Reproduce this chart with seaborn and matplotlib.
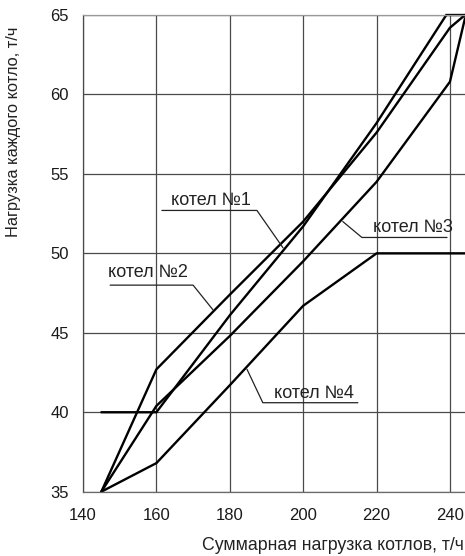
import matplotlib
matplotlib.use("Agg")
import matplotlib.pyplot as plt
import pandas as pd
import seaborn as sns

# суммарная нагрузка котлов (т/ч) и нагрузка каждого котла (т/ч)
total_1 = [145, 160, 180, 200, 220, 239, 244.1]
load_1 = [40, 40, 46.1, 51.7, 58.2, 65, 65]
total_2 = [145, 160, 180, 200, 220, 240, 244.1]
load_2 = [35, 42.7, 47.4, 52.0, 57.6, 64.2, 65]
total_3 = [145, 160, 180, 200, 220, 240, 244.1]
load_3 = [35, 40.4, 44.8, 49.5, 54.5, 60.8, 64.8]
total_4 = [145, 160, 180, 200, 220, 244.1]
load_4 = [35, 36.8, 41.7, 46.7, 50, 50]

boiler_names = ["котел №1", "котел №2", "котел №3", "котел №4"]
x_ticks = [140, 160, 180, 200, 220, 240]
y_ticks = [35, 40, 45, 50, 55, 60, 65]

# подписи: текст (x, y) и выноска (ломаная)
label_pos = [(175.0, 53.3), (157.6, 48.8), (229.9, 51.6), (202.9, 41.2)]
leader_x = [[161.5, 187.4, 194.5], [147.4, 170.0, 175.4],
            [239.2, 216.0, 210.8], [214.9, 189.0, 184.7]]
leader_y = [[52.7, 52.7, 50.35], [48.0, 48.0, 46.45],
            [51.0, 51.0, 52.0], [40.6, 40.6, 42.7]]

frames = []
for name, xs, ys in zip(boiler_names,
                        [total_1, total_2, total_3, total_4],
                        [load_1, load_2, load_3, load_4]):
    frames.append(pd.DataFrame({"total": xs, "load": ys, "boiler": name}))
df = pd.concat(frames, ignore_index=True)

sns.set_style("white")
plt.rcParams["font.family"] = ["Liberation Sans", "DejaVu Sans"]

W, H = 465, 556
fig = plt.figure(figsize=(W / 100, H / 100), dpi=100)
ax = fig.add_axes([83 / W, 1 - 491.7 / H, 1 - 83 / W, (491.7 - 15) / H])

ax.grid(True, color="#4a4a4a", linewidth=0.9)
ax.set_axisbelow(True)

sns.lineplot(data=df, x="total", y="load", hue="boiler", palette=["black"] * 4,
             estimator=None, sort=False, legend=False, linewidth=1.7, ax=ax)
for line in ax.get_lines():
    line.set_clip_on(False)
    line.set_solid_joinstyle("miter")

for name, (tx, ty), lx, ly in zip(boiler_names, label_pos, leader_x, leader_y):
    ax.plot(lx, ly, color="#222222", linewidth=0.9, clip_on=False)
    ax.text(tx, ty, name, ha="center", va="center", fontsize=13, color="#222222")

ax.set_xlim(140, 244.1)
ax.set_ylim(35, 65)
ax.set_xticks(x_ticks)
ax.set_yticks(y_ticks)
ax.tick_params(axis="both", direction="out", length=5, width=0.9, color="#4a4a4a",
               labelsize=12, pad=5, labelcolor="#1a1a1a")
ax.tick_params(axis="x", pad=7)

ax.spines["right"].set_visible(False)
ax.spines["top"].set_color("#9a9a9a")
ax.spines["left"].set_color("#4a4a4a")
ax.spines["bottom"].set_color("#6a6a6a")
for s in ax.spines.values():
    s.set_linewidth(0.9)

ax.set_xlabel("")
ax.set_ylabel("")
fig.text(0.998, 1 - 545 / H, "Суммарная нагрузка котлов, т/ч", ha="right", va="center",
         fontsize=12.8, color="#222222")
fig.text(14 / W, 1 - 27 / H, "Нагрузка каждого котло, т/ч", rotation=90, ha="center",
         va="top", fontsize=11.8, color="#222222")

fig.savefig("out.png", dpi=100)
